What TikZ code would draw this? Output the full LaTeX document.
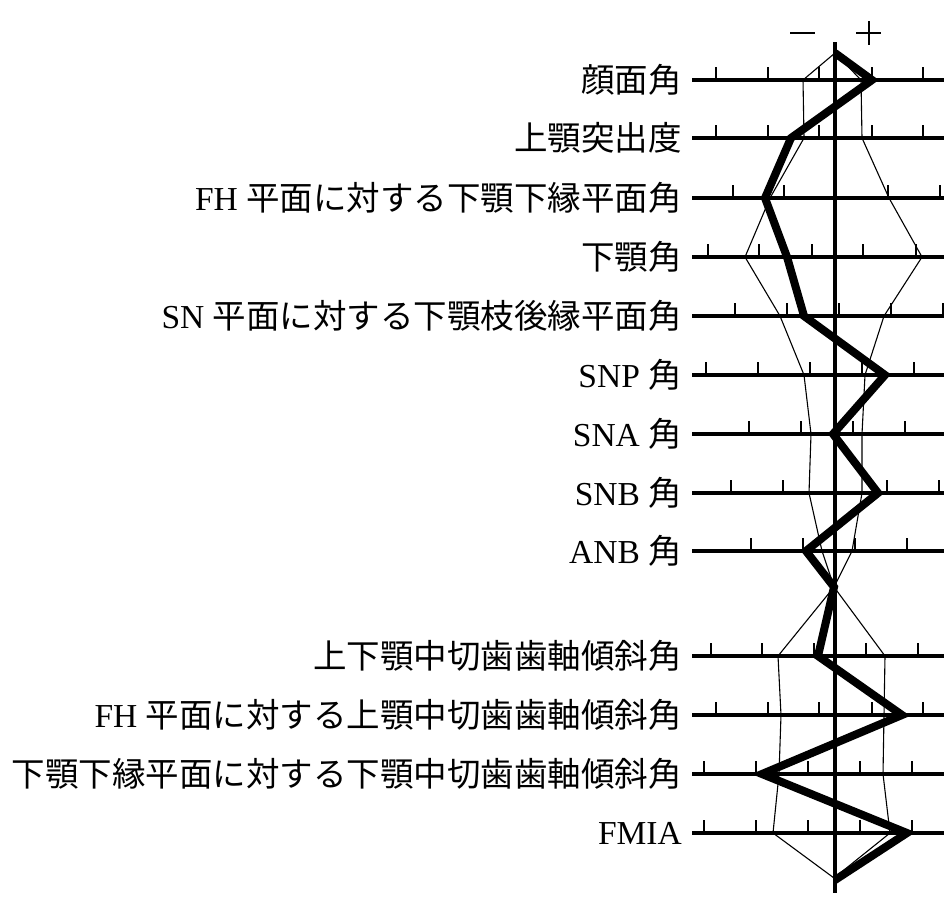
\documentclass[tikz,border=0pt]{standalone}
\usepackage{fontspec}
\setmainfont{Liberation Serif}
\newfontfamily\cjk{Noto Sans CJK JP}
\begin{document}
\begin{tikzpicture}[x=1pt,y=-1pt,
  lab/.style={anchor=east,inner sep=0pt,font=\fontsize{33.5}{34}\selectfont},
  axisline/.style={line width=3.2pt},
  tick/.style={line width=1.5pt},
  norm/.style={line width=1.1pt},
  patient/.style={line width=8pt,line join=miter}]
  \useasboundingbox (0,0) rectangle (944,902);

  % rows: y / labels
  \foreach \y/\lab in {80/{\cjk 顔面角}, 138/{\cjk 上顎突出度},
      198/{FH {\cjk 平面に対する下顎下縁平面角}}, 257/{\cjk 下顎角},
      316/{SN {\cjk 平面に対する下顎枝後縁平面角}}, 375/{SNP {\cjk 角}},
      434/{SNA {\cjk 角}}, 493/{SNB {\cjk 角}}, 551/{ANB {\cjk 角}},
      656/{\cjk 上下顎中切歯歯軸傾斜角},
      715/{FH {\cjk 平面に対する上顎中切歯歯軸傾斜角}},
      774/{\cjk 下顎下縁平面に対する下顎中切歯歯軸傾斜角}, 833/{FMIA}} {
    \node[lab] at (682,\y) {\lab};
    \draw[axisline] (692,\y) -- (944,\y);
  }

  % ticks
  \foreach \y/\ticks in {80/{716,768,819,872,923}, 138/{716,768,819,872,923},
      198/{733,784,836,888,940}, 257/{708,759,812,863,916},
      316/{735,787,839,891,943}, 375/{706,758,810,862,914},
      434/{749,801,853,905}, 493/{731,783,887,939}, 551/{751,803,855,907},
      656/{711,762,814,866,918}, 715/{716,768,819,872,923},
      774/{704,756,808,860,912}, 833/{704,756,808,860,912}} {
    \foreach \t in \ticks
      \draw[tick] (\t,\y) -- (\t,\y-13);
  }

  % centre axis and signs
  \draw[axisline] (835,42) -- (835,893);
  \draw[line width=2pt] (790,33) -- (815,33);
  \draw[line width=2pt] (856,33) -- (881,33) (868.5,21) -- (868.5,45);

  % norm range
  \draw[norm] (835,53) -- (803,80) -- (804,138) -- (770,198) -- (745,257)
    -- (780,316) -- (804,375) -- (811,434) -- (809,493) -- (822,551)
    -- (834,587) -- (778,656) -- (781,715) -- (779,774) -- (773,833) -- (834,878);
  \draw[norm] (835,53) -- (861,80) -- (862,138) -- (889,198) -- (922,257)
    -- (884,316) -- (865,375) -- (862,434) -- (862,493) -- (852,551)
    -- (834,587) -- (885,656) -- (884,715) -- (883,774) -- (890,833) -- (834,878);

  % patient
  \draw[patient] (835,53) -- (872,80) -- (791,138) -- (765,198) -- (787,257)
    -- (804,316) -- (885,375) -- (833,434) -- (878,493) -- (806,551)
    -- (834,587) -- (818,656) -- (902,715) -- (762,774) -- (907,833) -- (835,880);
\end{tikzpicture}
\end{document}
